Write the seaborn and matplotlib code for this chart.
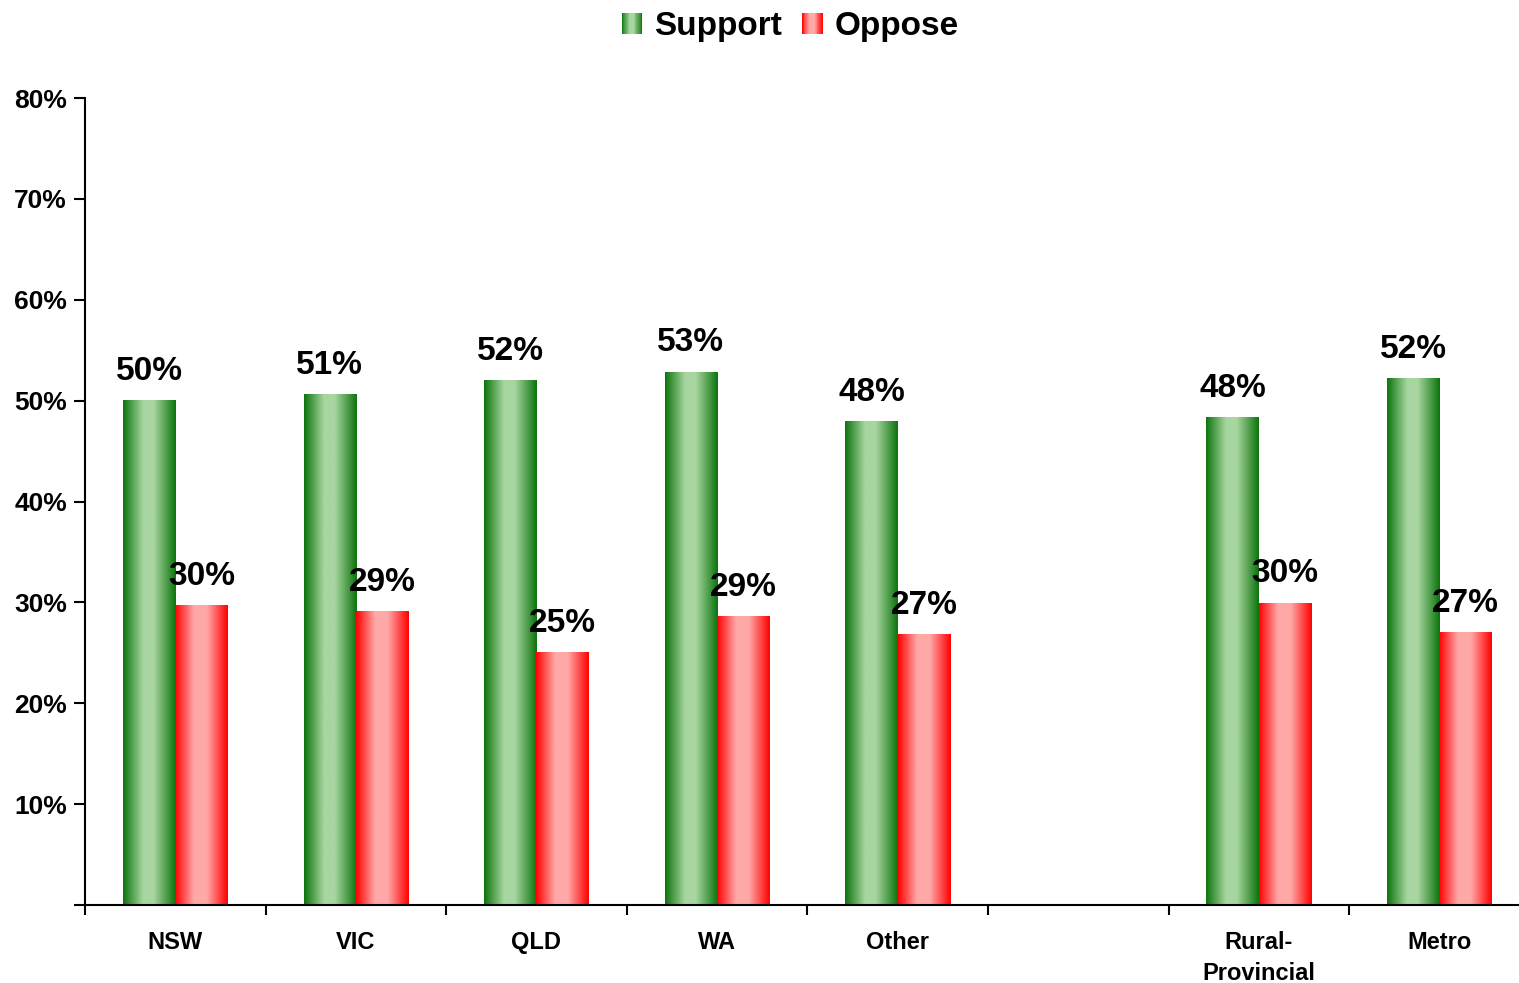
import numpy as np
import pandas as pd
import seaborn as sns
import matplotlib.pyplot as plt
from matplotlib.colors import LinearSegmentedColormap
from matplotlib.patches import Rectangle
from matplotlib.legend_handler import HandlerBase

# data
regions = ['NSW', 'VIC', 'QLD', 'WA', 'Other', 'Rural-\nProvincial', 'Metro']
support = [50.0, 50.6, 52.0, 52.8, 47.9, 48.3, 52.2]
oppose = [29.7, 29.1, 25.0, 28.6, 26.8, 29.9, 27.0]
series = ['Support', 'Oppose']
# empty slot between the states and the rural/metro split
slot_order = ['NSW', 'VIC', 'QLD', 'WA', 'Other', '', 'Rural-\nProvincial', 'Metro']
y_ticks = [0, 10, 20, 30, 40, 50, 60, 70, 80]

df = pd.DataFrame({
    'region': regions * 2,
    'series': ['Support'] * len(regions) + ['Oppose'] * len(regions),
    'value': support + oppose,
})

sns.set_style('white')
plt.rcParams['font.family'] = ['Liberation Sans', 'DejaVu Sans']
plt.rcParams['font.weight'] = 'bold'
for k in ['text.color', 'axes.labelcolor', 'xtick.color', 'ytick.color']:
    plt.rcParams[k] = 'black'

green_cmap = LinearSegmentedColormap.from_list(
    'grn', [(0, '#0c740c'), (0.38, '#a8d6a0'), (0.58, '#a8d6a0'), (1, '#0c740c')])
red_cmap = LinearSegmentedColormap.from_list(
    'red', [(0, '#ff0000'), (0.36, '#ffa8a8'), (0.6, '#ffa8a8'), (1, '#ff0000')])
cmaps = {'Support': green_cmap, 'Oppose': red_cmap}

fig = plt.figure(figsize=(15.19, 9.83), dpi=100)
ax = fig.add_axes([85 / 1519, 78 / 983, 1433 / 1519, 807 / 983])

sns.barplot(data=df, x='region', y='value', hue='series', order=slot_order,
            hue_order=series, palette=['#2e8b2e', '#ff4040'], width=0.58,
            saturation=1, legend=False, ax=ax)

# gradient fill for each bar
grad = np.linspace(0, 1, 256).reshape(1, -1)
for name, cont in zip(series, ax.containers):
    for bar in cont:
        x0, w, h = bar.get_x(), bar.get_width(), bar.get_height()
        ax.imshow(grad, extent=[x0, x0 + w, 0, h], aspect='auto', cmap=cmaps[name],
                  interpolation='bilinear', zorder=bar.get_zorder() + 0.1)
        bar.set_facecolor('none')
        bar.set_edgecolor('none')
    ax.bar_label(cont, labels=[f'{v:.0f}%' for v in cont.datavalues], padding=10,
                 fontsize=24, fontweight='bold', color='black', zorder=5)

ax.set_xlim(-0.5, 7.435)
ax.set_ylim(0, 80)
ax.set_yticks(y_ticks)
ax.set_yticklabels([''] + [f'{t}%' for t in y_ticks[1:]], fontsize=19, fontweight='bold')
ax.tick_params(axis='y', left=True, direction='out', length=8, width=1.5, pad=5)
ax.set_xticks(range(len(slot_order)))
ax.set_xticklabels(slot_order, fontsize=17, fontweight='bold', linespacing=1.45)
ax.tick_params(axis='x', which='major', length=0, pad=19)
ax.set_xticks(np.arange(-0.5, 7.0, 1.0), minor=True)
ax.tick_params(axis='x', which='minor', bottom=True, direction='out', length=7, width=1.5)
ax.set_xlabel('')
ax.set_ylabel('')
sns.despine(ax=ax)
for s in ['left', 'bottom']:
    ax.spines[s].set_linewidth(1.5)
    ax.spines[s].set_color('black')


class GradientHandler(HandlerBase):
    def __init__(self, cmap):
        super().__init__()
        self.cmap = cmap

    def create_artists(self, legend, orig_handle, xdescent, ydescent,
                       width, height, fontsize, trans):
        n = 24
        out = []
        for i in range(n):
            r = Rectangle((-xdescent + i * width / n, -ydescent), width / n, height,
                          facecolor=self.cmap((i + 0.5) / n), linewidth=0, transform=trans)
            out.append(r)
        return out


h_sup = Rectangle((0, 0), 1, 1)
h_opp = Rectangle((0, 0), 1, 1)
fig.legend([h_sup, h_opp], series, loc='upper center', bbox_to_anchor=(790 / 1519, 1.019),
           ncol=2, frameon=False, prop={'size': 24, 'weight': 'bold'},
           handlelength=0.62, handleheight=0.62, handletextpad=0.35, columnspacing=0.6,
           handler_map={h_sup: GradientHandler(green_cmap), h_opp: GradientHandler(red_cmap)})

fig.savefig('out.png', dpi=100)
